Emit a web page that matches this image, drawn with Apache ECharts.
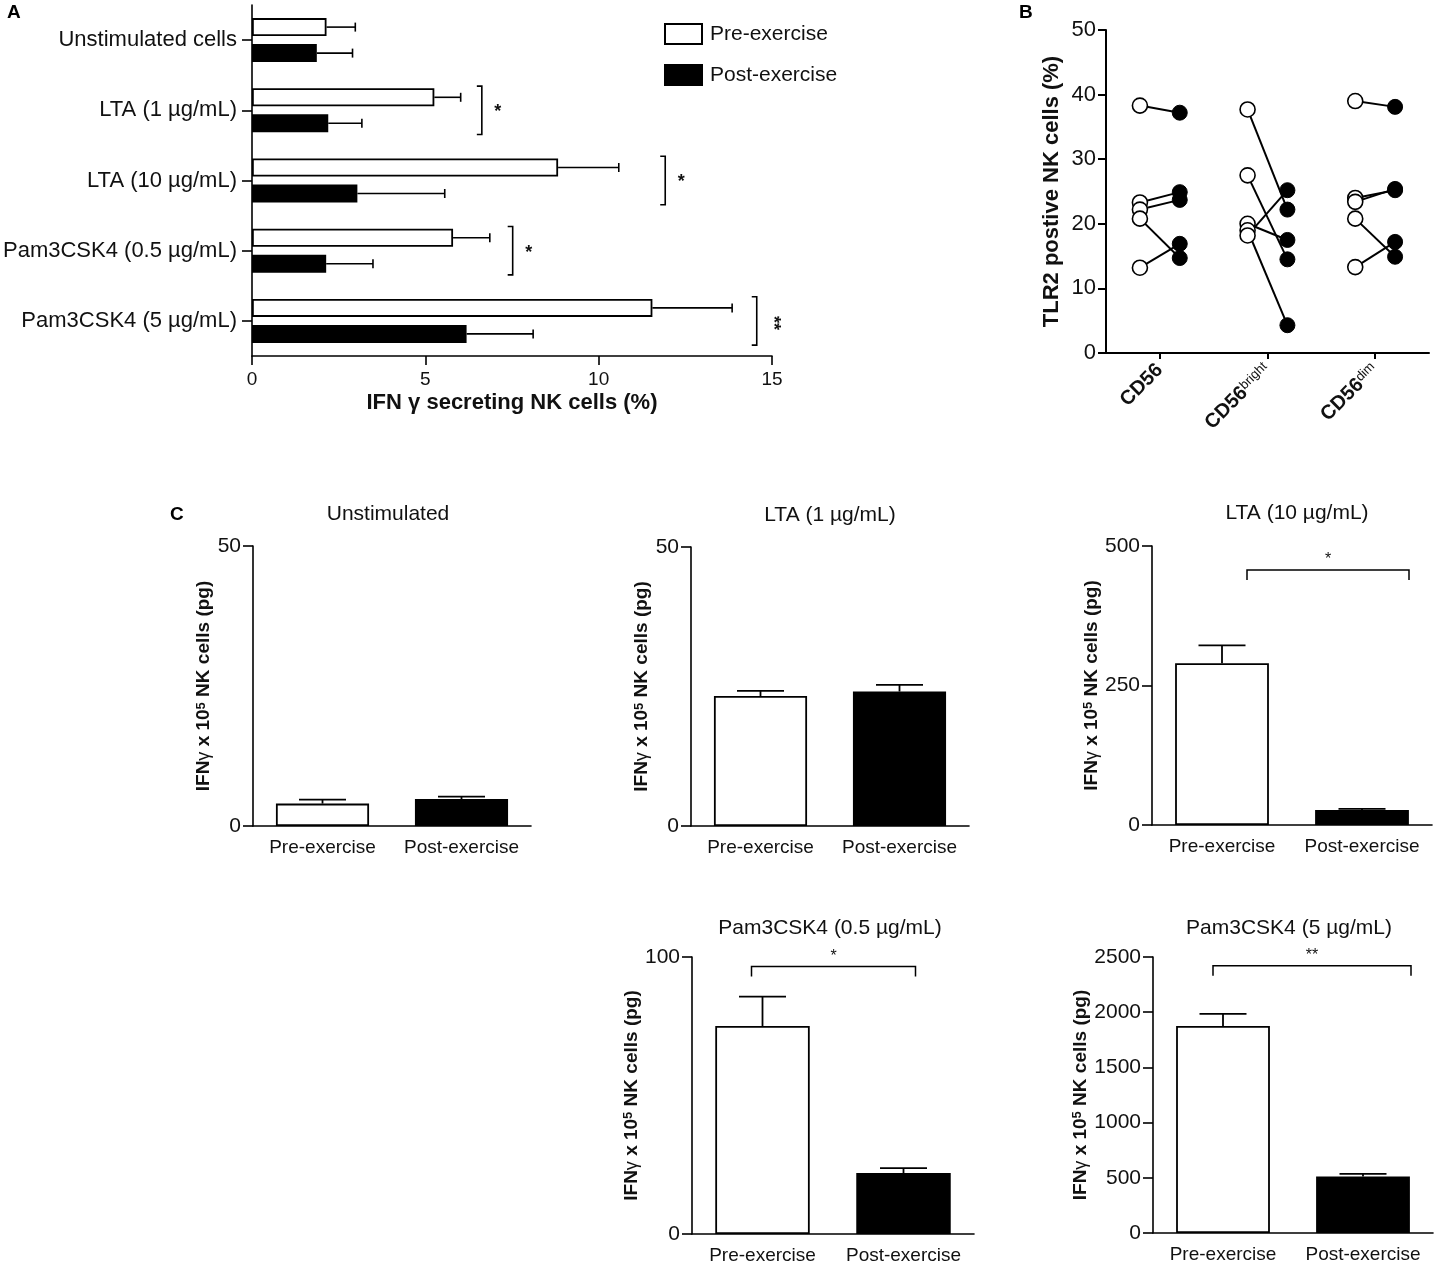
<!DOCTYPE html>
<html>
<head>
<meta charset="utf-8">
<script src="https://cdn.jsdelivr.net/npm/echarts@6/dist/echarts.min.js"></script>
<style>
html, body { margin: 0; padding: 0; background: #fff; }
#main { width: 1438px; height: 1266px; }
</style>
</head>
<body>
<div id="main"></div>
<script>
const FONT = '"Liberation Sans", Arial, Helvetica, sans-serif';
const INK = '#111';

// ---- panel A: IFN-gamma secreting NK cells (%)
const aCategories = ['Unstimulated cells', 'LTA (1 µg/mL)', 'LTA (10 µg/mL)', 'Pam3CSK4 (0.5 µg/mL)', 'Pam3CSK4 (5 µg/mL)'];
const aPreMean = [2.15, 5.26, 8.83, 5.80, 11.55];
const aPreErr = [0.83, 0.76, 1.75, 1.06, 2.30];
const aPostMean = [1.87, 2.20, 3.04, 2.14, 6.19];
const aPostErr = [1.03, 0.97, 2.52, 1.35, 1.92];
const aSigX = [null, 6.63, 11.92, 7.52, 14.56];
const aSigMark = ['', '*', '*', '*', '**'];
const aTicks = [0, 5, 10, 15];

// ---- panel B: TLR2 positive NK cells (%), paired pre / post
const bGroupBase = ['CD56', 'CD56', 'CD56'];
const bGroupSup = ['', 'bright', 'dim'];
const cd56Pre = [38.3, 23.3, 22.2, 20.8, 13.2];
const cd56Post = [37.2, 24.9, 23.7, 14.7, 16.9];
const brightPre = [37.7, 27.5, 20.0, 19.0, 18.2];
const brightPost = [22.2, 14.5, 17.5, 4.3, 25.2];
const dimPre = [39.0, 24.0, 23.4, 20.8, 13.3];
const dimPost = [38.1, 25.2, 25.4, 14.9, 17.2];
const bTicks = [0, 10, 20, 30, 40, 50];

// ---- panel C: IFN-gamma per 10^5 NK cells (pg)
const cLabels = ['Pre-exercise', 'Post-exercise'];
const cTitles = ['Unstimulated', 'LTA (1 µg/mL)', 'LTA (10 µg/mL)', 'Pam3CSK4 (0.5 µg/mL)', 'Pam3CSK4 (5 µg/mL)'];
const unstimMean = [4.0, 4.8];
const unstimErr = [0.7, 0.45];
const lta1Mean = [23.3, 24.1];
const lta1Err = [0.9, 1.2];
const lta10Mean = [290, 27];
const lta10Err = [32, 2];
const pam05Mean = [75.1, 22.0];
const pam05Err = [10.6, 1.8];
const pam5Mean = [1876, 512];
const pam5Err = [109, 24];
const cMax = [50, 50, 500, 100, 2500];
const cStep = [50, 50, 250, 100, 500];
const cSigY = [null, null, 457, 96.6, 2421];
const cSigMark = ['', '', '*', '*', '**'];

const chart = echarts.init(document.getElementById('main'));

const preStyle = { color: '#fff', borderColor: '#000', borderWidth: 1.8 };
const postStyle = { color: '#000', borderColor: '#000', borderWidth: 1.8 };
const axisLine = { show: true, lineStyle: { color: '#000', width: 1.6 } };
const axisTick = (len) => ({ show: true, length: len, lineStyle: { color: '#000', width: 1.6 } });
const lbl = (size, margin) => ({ fontSize: size, fontFamily: FONT, color: INK, margin: margin });

const grids = [
  { left: 251, top: 5, width: 521, height: 351 },      // A
  { left: 1106, top: 30, width: 323, height: 323 },    // B
  { left: 253, top: 546, width: 278, height: 280 },    // C unstim
  { left: 691, top: 547, width: 278, height: 279 },    // C lta1
  { left: 1152, top: 546, width: 280, height: 279 },   // C lta10
  { left: 692, top: 957, width: 282, height: 277 },    // C pam 0.5
  { left: 1153, top: 957, width: 280, height: 276 }    // C pam 5
];
const cTitlePos = [[388, 514], [830, 515], [1297, 513], [830, 928], [1289, 928]];
const cNameGap = [36, 36, 36, 36, 60];
const cSigShift = [null, null, [25, 47], [-11, 12], [-10, 48]];

const BAR_A = 18, GAP_A = 8;

const xAxes = [
  { gridIndex: 0, type: 'value', min: 0, max: 15, interval: 5,
    axisLine: axisLine, axisTick: axisTick(9), splitLine: { show: false },
    axisLabel: lbl(19, 14),
    name: 'IFN γ secreting NK cells (%)', nameLocation: 'middle', nameGap: 36,
    nameTextStyle: { fontSize: 22, fontWeight: 'bold', fontFamily: FONT, color: INK } },
  { gridIndex: 1, type: 'value', min: 0, max: 3,
    axisLine: { show: true, lineStyle: { color: '#000', width: 2 } },
    axisTick: { show: true, length: 6, customValues: [0.5, 1.5, 2.5], lineStyle: { color: '#000', width: 2 } },
    splitLine: { show: false },
    axisLabel: { rotate: 45, margin: 14, customValues: [0.5, 1.5, 2.5],
      formatter: function (v) {
        const g = Math.floor(v);
        return '{b|' + bGroupBase[g] + '}' + (bGroupSup[g] ? '{s|' + bGroupSup[g] + '}' : '');
      },
      rich: {
        b: { fontSize: 20, fontWeight: 'bold', fontFamily: FONT, color: INK },
        s: { fontSize: 13, fontFamily: FONT, color: INK, verticalAlign: 'top' }
      } } }
];
const yAxes = [
  { gridIndex: 0, type: 'category', inverse: true, data: aCategories,
    axisLine: axisLine, axisTick: Object.assign(axisTick(10), { alignWithLabel: true }),
    axisLabel: lbl(22, 15) },
  { gridIndex: 1, type: 'value', min: 0, max: 50, interval: 10,
    axisLine: { show: true, lineStyle: { color: '#000', width: 2 } },
    axisTick: { show: true, length: 8, lineStyle: { color: '#000', width: 2 } },
    splitLine: { show: false }, axisLabel: lbl(22, 10),
    name: 'TLR2 postive NK cells (%)', nameLocation: 'middle', nameRotate: 90, nameGap: 43,
    nameTextStyle: { fontSize: 22, fontWeight: 'bold', fontFamily: FONT, color: INK } }
];

const series = [
  { name: 'Pre-exercise', type: 'bar', xAxisIndex: 0, yAxisIndex: 0, data: aPreMean,
    barWidth: BAR_A, barGap: (GAP_A / BAR_A * 100) + '%', itemStyle: preStyle },
  { name: 'Post-exercise', type: 'bar', xAxisIndex: 0, yAxisIndex: 0, data: aPostMean,
    barWidth: BAR_A, itemStyle: postStyle },
  { type: 'custom', xAxisIndex: 0, yAxisIndex: 0, z: 3, silent: true,
    encode: { x: 0, y: 1 },
    data: aCategories.flatMap((c, i) => [[aPreMean[i], i, aPreErr[i], 0], [aPostMean[i], i, aPostErr[i], 1]]),
    renderItem: function (params, api) {
      const v = api.value(0), cat = api.value(1), e = api.value(2), slot = api.value(3);
      const p0 = api.coord([v, cat]);
      const p1 = api.coord([v + e, cat]);
      const dy = (slot === 0 ? -1 : 1) * (BAR_A + GAP_A) / 2;
      const st = { stroke: '#000', lineWidth: 1.6 };
      return { type: 'group', children: [
        { type: 'line', shape: { x1: p0[0], y1: p0[1] + dy, x2: p1[0], y2: p1[1] + dy }, style: st },
        { type: 'line', shape: { x1: p1[0], y1: p1[1] + dy - 4.5, x2: p1[0], y2: p1[1] + dy + 4.5 }, style: st }
      ] };
    } },
  { type: 'custom', xAxisIndex: 0, yAxisIndex: 0, z: 3, silent: true,
    encode: { x: 0, y: 1 },
    data: aSigX.map((x, i) => [x, i, i]).filter(d => d[0] !== null),
    renderItem: function (params, api) {
      const p = api.coord([api.value(0), api.value(1)]);
      const half = api.size([0, 1])[1] * 0.345;
      const mark = aSigMark[api.value(2)];
      return { type: 'group', children: [
        { type: 'polyline', shape: { points: [[p[0] - 5, p[1] - half], [p[0], p[1] - half], [p[0], p[1] + half], [p[0] - 5, p[1] + half]] },
          style: { stroke: '#000', lineWidth: 1.6, fill: null } },
        { type: 'text', x: p[0] + 16, y: p[1] + 2, rotation: mark.length > 1 ? -Math.PI / 2 : 0,
          style: { text: mark, font: 'bold 18px ' + FONT, fill: INK,
            align: 'center', verticalAlign: 'middle', textAlign: 'center', textVerticalAlign: 'middle' } }
      ] };
    } }
];

// panel B: one line per donor, then the open / filled dots on top
const bPre = [cd56Pre, brightPre, dimPre];
const bPost = [cd56Post, brightPost, dimPost];
const B_SHIFT = 0.185;
bPre.forEach((pre, g) => {
  pre.forEach((v, k) => {
    series.push({ type: 'line', xAxisIndex: 1, yAxisIndex: 1, z: 2, silent: true,
      symbol: 'none', lineStyle: { color: '#000', width: 2 },
      data: [[g + 0.5 - B_SHIFT, v], [g + 0.5 + B_SHIFT, bPost[g][k]]] });
  });
  series.push({ type: 'scatter', xAxisIndex: 1, yAxisIndex: 1, z: 4, symbolSize: 15,
    itemStyle: { color: '#fff', borderColor: '#000', borderWidth: 1.6, opacity: 1 },
    data: pre.map(v => [g + 0.5 - B_SHIFT, v]) });
  series.push({ type: 'scatter', xAxisIndex: 1, yAxisIndex: 1, z: 4, symbolSize: 15,
    itemStyle: { color: '#000', borderColor: '#000', borderWidth: 1, opacity: 1 },
    data: bPost[g].map(v => [g + 0.5 + B_SHIFT, v]) });
});

// panel C
const cMean = [unstimMean, lta1Mean, lta10Mean, pam05Mean, pam5Mean];
const cErr = [unstimErr, lta1Err, lta10Err, pam05Err, pam5Err];
const cRich = {
  b: { fontSize: 19, fontWeight: 'bold', fontFamily: FONT, color: INK },
  g: { fontSize: 18, fontFamily: FONT, color: INK },
  s: { fontSize: 13, fontWeight: 'bold', fontFamily: FONT, color: INK, verticalAlign: 'top' }
};
cMean.forEach((mean, j) => {
  const gi = j + 2;
  xAxes.push({ gridIndex: gi, type: 'category', data: cLabels,
    axisLine: axisLine, axisTick: { show: false },
    axisLabel: Object.assign(lbl(19, 12), { interval: 0 }) });
  yAxes.push({ gridIndex: gi, type: 'value', min: 0, max: cMax[j], interval: cStep[j],
    axisLine: axisLine, axisTick: axisTick(10), splitLine: { show: false },
    axisLabel: Object.assign(lbl(21, 12), { formatter: v => String(v) }),
    name: '{b|IFN}{g|γ}{b| x 10}{s|5}{b| NK cells (pg)}', nameLocation: 'middle', nameRotate: 90,
    nameGap: cNameGap[j], nameTextStyle: { rich: cRich } });
  series.push({ name: 'c' + j, type: 'bar', xAxisIndex: gi, yAxisIndex: gi, barCategoryGap: '33%',
    data: mean.map((v, i) => ({ value: v, itemStyle: i === 0 ? preStyle : postStyle })) });
  series.push({ type: 'custom', xAxisIndex: gi, yAxisIndex: gi, z: 1, silent: true,
    encode: { x: 0, y: 1 },
    data: mean.map((v, i) => [i, v, cErr[j][i]]),
    renderItem: function (params, api) {
      const p0 = api.coord([api.value(0), api.value(1)]);
      const p1 = api.coord([api.value(0), api.value(1) + api.value(2)]);
      const st = { stroke: '#000', lineWidth: 1.8 };
      return { type: 'group', children: [
        { type: 'line', shape: { x1: p0[0], y1: p0[1], x2: p1[0], y2: p1[1] }, style: st },
        { type: 'line', shape: { x1: p1[0] - 23.5, y1: p1[1], x2: p1[0] + 23.5, y2: p1[1] }, style: st }
      ] };
    } });
  if (cSigY[j] !== null) {
    series.push({ type: 'custom', xAxisIndex: gi, yAxisIndex: gi, z: 3, silent: true,
      encode: { x: 0, y: 1 },
      data: [[0, cSigY[j]]],
      renderItem: function (params, api) {
        const y = api.value(1);
        const l = api.coord([0, y]), r = api.coord([1, y]);
        const x1 = l[0] + cSigShift[j][0], x2 = r[0] + cSigShift[j][1], yy = l[1];
        return { type: 'group', children: [
          { type: 'polyline', shape: { points: [[x1, yy + 10], [x1, yy], [x2, yy], [x2, yy + 10]] },
            style: { stroke: '#000', lineWidth: 1.5, fill: null } },
          { type: 'text', x: (x1 + x2) / 2, y: yy - 10,
            style: { text: cSigMark[j], font: '16px ' + FONT, fill: INK,
              align: 'center', verticalAlign: 'middle', textAlign: 'center', textVerticalAlign: 'middle' } }
        ] };
      } });
  }
});

const graphics = [
  { type: 'text', x: 7, y: 3, style: { text: 'A', font: 'bold 19px ' + FONT, fill: '#000' } },
  { type: 'text', x: 1019, y: 3, style: { text: 'B', font: 'bold 19px ' + FONT, fill: '#000' } },
  { type: 'text', x: 170, y: 505, style: { text: 'C', font: 'bold 19px ' + FONT, fill: '#000' } }
];
cTitles.forEach((t, j) => {
  graphics.push({ type: 'text', x: cTitlePos[j][0], y: cTitlePos[j][1],
    style: { text: t, font: '21px ' + FONT, fill: INK,
      align: 'center', verticalAlign: 'middle', textAlign: 'center', textVerticalAlign: 'middle' } });
});

chart.setOption({
  animation: false,
  backgroundColor: '#fff',
  grid: grids,
  xAxis: xAxes,
  yAxis: yAxes,
  legend: {
    data: ['Pre-exercise', 'Post-exercise'], orient: 'vertical', left: 659, top: 18,
    itemWidth: 37, itemHeight: 20, itemGap: 19, icon: 'rect', selectedMode: false,
    textStyle: { fontSize: 21, fontFamily: FONT, color: INK, padding: [0, 0, 0, 3] }
  },
  graphic: { elements: graphics },
  series: series
});
</script>
</body>
</html>
